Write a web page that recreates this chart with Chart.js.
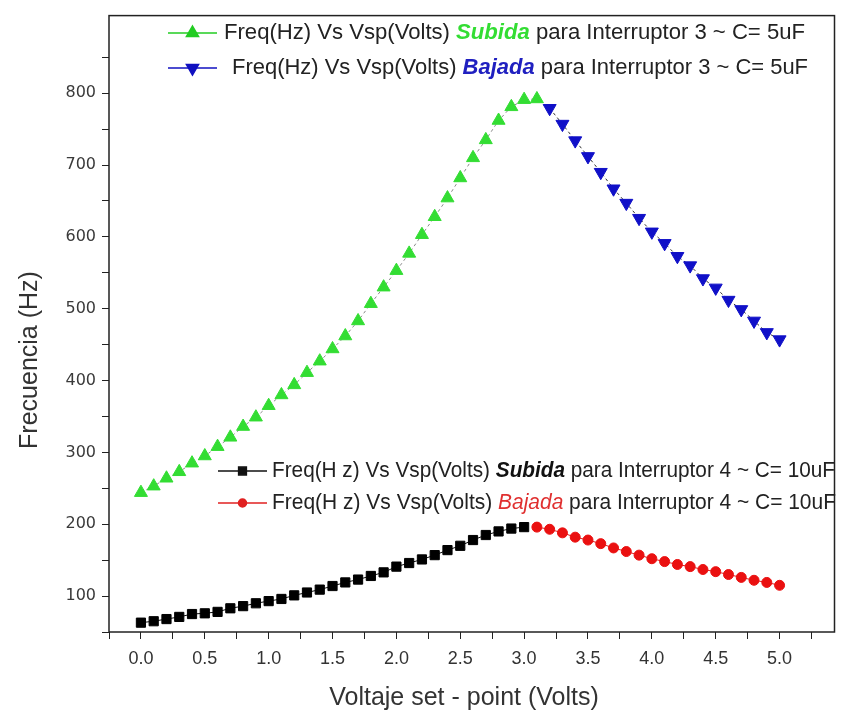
<!DOCTYPE html>
<html>
<head>
<meta charset="utf-8">
<title>Frecuencia vs Voltaje set-point</title>
<script src="https://cdn.jsdelivr.net/npm/chart.js@4.4.1/dist/chart.umd.min.js"></script>
<style>
  html, body { margin: 0; padding: 0; background: #fff; }
  #wrap { width: 843px; height: 718px; position: relative; }
</style>
</head>
<body>
<div id="wrap"><canvas id="freqChart"></canvas></div>
<script>
// Interruptor 3 ~ C = 5uF
const voltsSubida3 = [0.0, 0.1, 0.2, 0.3, 0.4, 0.5, 0.6, 0.7, 0.8, 0.9, 1.0, 1.1, 1.2, 1.3, 1.4, 1.5,
                      1.6, 1.7, 1.8, 1.9, 2.0, 2.1, 2.2, 2.3, 2.4, 2.5, 2.6, 2.7, 2.8, 2.9, 3.0, 3.1];
const freqSubida3 = [244, 253, 264, 273, 285, 295, 308, 321, 336, 349, 365, 380, 394, 411, 427, 444,
                     462, 483, 507, 530, 553, 577, 603, 628, 654, 682, 710, 735, 762, 781, 791, 792];
const voltsBajada3 = [3.2, 3.3, 3.4, 3.5, 3.6, 3.7, 3.8, 3.9, 4.0, 4.1, 4.2, 4.3, 4.4, 4.5, 4.6, 4.7, 4.8, 4.9, 5.0];
const freqBajada3 = [779, 757, 734, 712, 690, 667, 647, 626, 607, 591, 573, 560, 542, 529, 512, 499, 483, 467, 457];

// Interruptor 4 ~ C = 10uF
const voltsSubida4 = [0.0, 0.1, 0.2, 0.3, 0.4, 0.5, 0.6, 0.7, 0.8, 0.9, 1.0, 1.1, 1.2, 1.3, 1.4, 1.5,
                      1.6, 1.7, 1.8, 1.9, 2.0, 2.1, 2.2, 2.3, 2.4, 2.5, 2.6, 2.7, 2.8, 2.9, 3.0];
const freqSubida4 = [63, 65, 68, 71, 75, 76, 78, 83, 86, 90, 93, 96, 101, 105, 109, 114,
                     119, 123, 128, 133, 141, 146, 151, 157, 164, 170, 178, 185, 190, 194, 196];
const voltsBajada4 = [3.1, 3.2, 3.3, 3.4, 3.5, 3.6, 3.7, 3.8, 3.9, 4.0, 4.1, 4.2, 4.3, 4.4, 4.5, 4.6, 4.7, 4.8, 4.9, 5.0];
const freqBajada4 = [196, 193, 188, 182, 178, 173, 167, 162, 157, 152, 148, 144, 141, 137, 134, 130, 126, 122, 119, 115];

const xTickLabels = ['0.0', '0.5', '1.0', '1.5', '2.0', '2.5', '3.0', '3.5', '4.0', '4.5', '5.0'];
const yTickLabels = ['100', '200', '300', '400', '500', '600', '700', '800'];

const xTitle = 'Voltaje set - point (Volts)';
const yTitle = 'Frecuencia (Hz)';

const FONT = '"Liberation Sans", Arial, sans-serif';

function toPoints(xs, ys) {
    return xs.map((x, i) => ({ x: x, y: ys[i] }));
}

function findLabel(labels, value) {
    return labels.find(l => Math.abs(Number(l) - value) < 1e-6) || '';
}

// legend rows: marker + mixed-style text (squeezed to the original width)
const legendRows = [
    { y: 33, lineFrom: 168, lineTo: 217, textX: 224, textEnd: 805, color: '#22cc22', style: 'triangle', radius: 7, rotation: 0,
      parts: [['Freq(Hz) Vs Vsp(Volts) ', ''], ['Subida', 'italic bold', '#33dd33'], [' para Interruptor 3 ~ C= 5uF', '']] },
    { y: 68, lineFrom: 168, lineTo: 217, textX: 232, textEnd: 808, color: '#1010c0', style: 'triangle', radius: 7, rotation: 180,
      parts: [['Freq(Hz) Vs Vsp(Volts) ', ''], ['Bajada', 'italic bold', '#2020c0'], [' para Interruptor 3 ~ C= 5uF', '']] },
    { y: 471, lineFrom: 218, lineTo: 267, textX: 272, textEnd: 835, color: '#111', style: 'rect', radius: 5.5, rotation: 0,
      parts: [['Freq(H z) Vs Vsp(Volts) ', ''], ['Subida', 'italic bold', '#111'], [' para Interruptor 4 ~ C= 10uF', '']] },
    { y: 503, lineFrom: 218, lineTo: 267, textX: 272, textEnd: 836, color: '#e02020', style: 'circle', radius: 4, rotation: 0,
      parts: [['Freq(H z) Vs Vsp(Volts) ', ''], ['Bajada', 'italic', '#e03030'], [' para Interruptor 4 ~ C= 10uF', '']] }
];

function drawLegendRow(ctx, row) {
    ctx.save();
    ctx.strokeStyle = row.color;
    ctx.lineWidth = 1.5;
    ctx.beginPath();
    ctx.moveTo(row.lineFrom, row.y);
    ctx.lineTo(row.lineTo, row.y);
    ctx.stroke();
    ctx.fillStyle = row.color;
    Chart.helpers.drawPoint(ctx, { pointStyle: row.style, radius: row.radius, rotation: row.rotation, borderWidth: 1 },
        (row.lineFrom + row.lineTo) / 2, row.y);

    const size = 22;
    let total = 0;
    row.parts.forEach(p => {
        ctx.font = (p[1] ? p[1] + ' ' : '') + size + 'px ' + FONT;
        total += ctx.measureText(p[0]).width;
    });
    const sx = (row.textEnd - row.textX) / total;
    ctx.translate(row.textX, row.y);
    ctx.scale(sx, 1);
    ctx.textBaseline = 'middle';
    ctx.textAlign = 'left';
    let x = 0;
    row.parts.forEach(p => {
        ctx.font = (p[1] ? p[1] + ' ' : '') + size + 'px ' + FONT;
        ctx.fillStyle = p[2] || '#222';
        ctx.fillText(p[0], x, 0);
        x += ctx.measureText(p[0]).width;
    });
    ctx.restore();
}

const frameAndText = {
    id: 'frameAndText',
    afterDraw(chart) {
        const { ctx, chartArea: a } = chart;
        ctx.save();
        ctx.strokeStyle = '#222';
        ctx.lineWidth = 1.5;
        ctx.strokeRect(a.left, a.top, a.right - a.left, a.bottom - a.top);

        ctx.fillStyle = '#333';
        ctx.font = '25px ' + FONT;
        ctx.textAlign = 'center';
        ctx.textBaseline = 'middle';
        ctx.fillText(xTitle, 464, 698);
        ctx.translate(30, 360);
        ctx.rotate(-Math.PI / 2);
        ctx.fillText(yTitle, 0, 0);
        ctx.restore();

        legendRows.forEach(r => drawLegendRow(ctx, r));
    }
};

new Chart(document.getElementById('freqChart'), {
    type: 'scatter',
    data: {
        datasets: [
            {
                label: 'Subida Interruptor 3',
                data: toPoints(voltsSubida3, freqSubida3),
                showLine: true,
                borderColor: '#8a8a8a',
                borderWidth: 1,
                borderDash: [3, 3],
                pointStyle: 'triangle',
                pointRadius: 7.5,
                pointBackgroundColor: '#33dd33',
                pointBorderColor: '#33dd33',
                pointBorderWidth: 1
            },
            {
                label: 'Bajada Interruptor 3',
                data: toPoints(voltsBajada3, freqBajada3),
                showLine: true,
                borderColor: '#333',
                borderWidth: 1,
                borderDash: [3, 3],
                pointStyle: 'triangle',
                pointRotation: 180,
                pointRadius: 7.5,
                pointBackgroundColor: '#1010c8',
                pointBorderColor: '#1010c8',
                pointBorderWidth: 1
            },
            {
                label: 'Subida Interruptor 4',
                data: toPoints(voltsSubida4, freqSubida4),
                showLine: true,
                borderColor: '#111',
                borderWidth: 1,
                pointStyle: 'rect',
                pointRadius: 6.5,
                pointBackgroundColor: '#000',
                pointBorderColor: '#000',
                pointBorderWidth: 1
            },
            {
                label: 'Bajada Interruptor 4',
                data: toPoints(voltsBajada4, freqBajada4),
                showLine: true,
                borderColor: '#e02020',
                borderWidth: 1,
                pointStyle: 'circle',
                pointRadius: 5,
                pointBackgroundColor: '#ea1010',
                pointBorderColor: '#ea1010',
                pointBorderWidth: 1
            }
        ]
    },
    options: {
        responsive: true,
        maintainAspectRatio: false,
        animation: false,
        layout: { padding: { left: 0, right: 4, top: 12, bottom: 0 } },
        plugins: {
            legend: { display: false },
            tooltip: { enabled: false }
        },
        scales: {
            x: {
                type: 'linear',
                min: -0.25,
                max: 5.43,
                afterBuildTicks: scale => {
                    const ticks = [];
                    for (let i = -1; i <= 21; i++) ticks.push({ value: i * 0.25 });
                    scale.ticks = ticks;
                },
                afterFit: scale => { scale.height = 86; },
                ticks: {
                    autoSkip: false,
                    maxRotation: 0,
                    padding: 9,
                    color: '#333',
                    font: { family: FONT, size: 18 },
                    callback: value => findLabel(xTickLabels, value)
                },
                grid: { drawOnChartArea: false, drawTicks: true, tickLength: 7, color: '#222', lineWidth: 1 },
                border: { display: false }
            },
            y: {
                type: 'linear',
                min: 50,
                max: 908,
                afterBuildTicks: scale => {
                    const ticks = [];
                    for (let i = 1; i <= 17; i++) ticks.push({ value: i * 50 });
                    scale.ticks = ticks;
                },
                afterFit: scale => { scale.width = 109; },
                ticks: {
                    autoSkip: false,
                    padding: 6,
                    color: '#3a3a3a',
                    font: { family: '"DejaVu Sans", Verdana, sans-serif', size: 16 },
                    callback: value => findLabel(yTickLabels, value)
                },
                grid: { drawOnChartArea: false, drawTicks: true, tickLength: 7, color: '#222', lineWidth: 1 },
                border: { display: false }
            }
        }
    },
    plugins: [frameAndText]
});
</script>
</body>
</html>
